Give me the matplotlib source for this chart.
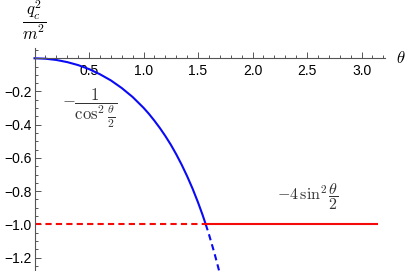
import numpy as np
import matplotlib.pyplot as plt

plt.rcParams['mathtext.fontset'] = 'cm'
plt.rcParams['font.family'] = ['Liberation Sans', 'DejaVu Sans']

theta_solid = [0.0, 0.1, 0.2, 0.3, 0.4, 0.5, 0.6, 0.7, 0.8, 0.9,
               1.0, 1.05, 1.1, 1.15, 1.2, 1.25, 1.3, 1.35, 1.4, 1.45,
               1.5, 1.54, 1.5708]
q_solid = [0.0, -0.0025, -0.010, -0.023, -0.041, -0.065, -0.096, -0.133,
           -0.179, -0.233, -0.298, -0.335, -0.376, -0.420, -0.468, -0.520,
           -0.578, -0.641, -0.710, -0.785, -0.868, -0.940, -1.0]
# dashed continuation past pi/2
theta_dash = [1.5708, 1.6, 1.65, 1.7]
q_dash = [-1.0, -1.060, -1.172, -1.296]

# red level -4 sin^2(theta/2) read as flat -1
red_dash_x = [0.0, 1.5708]
red_dash_y = [-1.0, -1.0]
red_solid_x = [1.5708, 3.1416]
red_solid_y = [-1.0, -1.0]

x_ticks = [0.5, 1.0, 1.5, 2.0, 2.5, 3.0]
y_ticks = [-0.2, -0.4, -0.6, -0.8, -1.0, -1.2]

fig = plt.figure(figsize=(4.07, 2.71), dpi=100)
ax = fig.add_axes([0, 0, 1, 1])
ax.set_xlim(-0.3165, 3.417)
ax.set_ylim(-1.281, 0.351)

blue = '#0a0af5'
red = '#f50a0a'
ax.plot(theta_solid, q_solid, color=blue, lw=1.5, solid_joinstyle='round')
ax.plot(theta_dash, q_dash, color=blue, lw=1.5, ls=(0, (3, 2)))
ax.plot(red_dash_x, red_dash_y, color=red, lw=1.5, ls=(0, (3, 2)))
ax.plot(red_solid_x, red_solid_y, color=red, lw=1.5)

# axes through the origin
for s in ['top', 'right']:
    ax.spines[s].set_visible(False)
ax.spines['left'].set_position(('data', 0))
ax.spines['bottom'].set_position(('data', 0))
ax.spines['left'].set_bounds(-1.29, 0.062)
ax.spines['bottom'].set_bounds(0, 3.216)
for s in ['left', 'bottom']:
    ax.spines[s].set_color('#555555')
    ax.spines[s].set_linewidth(0.8)

ax.set_xticks(x_ticks)
ax.set_xticklabels([f"{v:.1f}" for v in x_ticks])
ax.set_xticks(np.arange(0.1, 3.21, 0.1), minor=True)
ax.set_yticks(y_ticks)
ax.set_yticklabels([f"\u2212{abs(v):.1f}" for v in y_ticks])
ax.set_yticks(np.arange(-1.25, 0.06, 0.05), minor=True)
ax.tick_params(which='both', direction='in', color='#555555', width=0.7)
ax.tick_params(which='major', length=4.5)
ax.tick_params(which='minor', length=2.5)
ax.tick_params(axis='x', pad=4, labelsize=10)
ax.tick_params(axis='y', pad=2, labelsize=10)

ax.text(3.36, 0.0, r'$\theta$', fontsize=12, ha='center', va='center')
ax.text(0.0, 0.225, r'$\dfrac{q_c^2}{m^2}$', fontsize=12, ha='center', va='center')
ax.text(0.505, -0.302, r'$-\dfrac{1}{\cos^2\frac{\theta}{2}}$', fontsize=12,
        ha='center', va='center', color='#333333')
ax.text(2.51, -0.83, r'$-4\,\sin^2\dfrac{\theta}{2}$', fontsize=11.5,
        ha='center', va='center', color='#333333')

fig.savefig('out.png', dpi=100)
